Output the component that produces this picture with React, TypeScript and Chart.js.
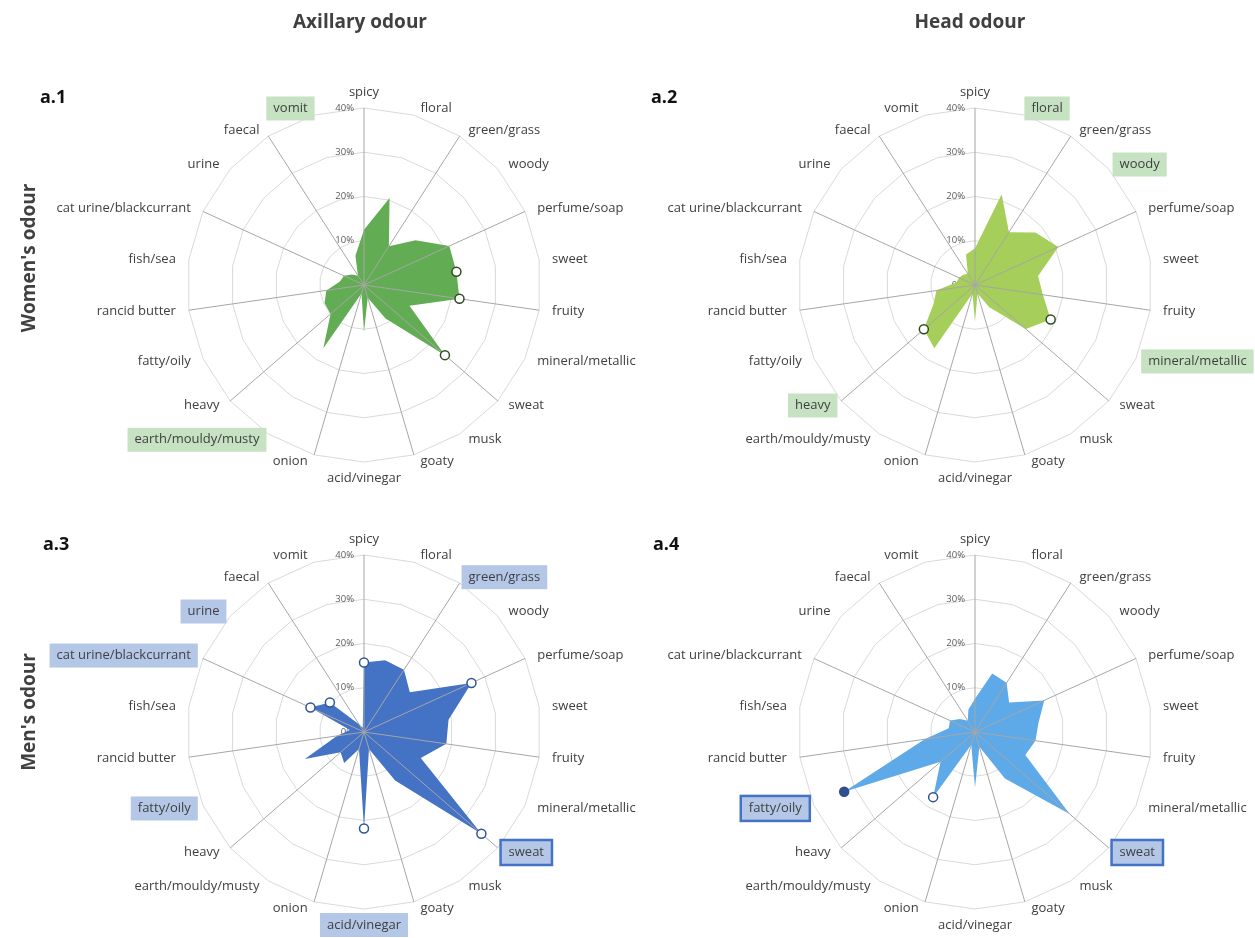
import React, { useEffect, useRef } from 'react';
import { Chart, registerables } from 'chart.js';

Chart.register(...registerables);

const W = 1255;
const H = 938;
const R = 177;

// ---------- data ----------
const categories = [
  'spicy', 'floral', 'green/grass', 'woody', 'perfume/soap', 'sweet', 'fruity',
  'mineral/metallic', 'sweat', 'musk', 'goaty', 'acid/vinegar', 'onion',
  'earth/mouldy/musty', 'heavy', 'fatty/oily', 'rancid butter', 'fish/sea',
  'cat urine/blackcurrant', 'urine', 'faecal', 'vomit',
];
const radialTicks = [0, 10, 20, 30, 40];

const axillaryWomen = [12.5, 20.5, 10.4, 15.4, 21.2, 21.1, 21.8, 11.3, 24.2, 9, 3, 10.6, 2, 17, 10, 9.8, 8.6, 5.5, 5, 3.6, 2.5, 6.9];
const headWomen = [8.3, 21.4, 14.2, 18.1, 20.7, 14.4, 15.5, 18.8, 15.2, 6, 2, 8.3, 2, 17, 15.3, 10.3, 8.8, 4.2, 4, 3.5, 3, 7.2];
const axillaryMen = [15.7, 16.9, 16.7, 13.7, 26.7, 19.3, 18.8, 14.1, 35.1, 13, 4, 21.8, 4, 8.3, 7, 14.7, 6.2, 3.2, 13.3, 10.2, 2, 1];
const headMen = [7.5, 13.8, 13.2, 10.2, 17.2, 14.5, 13.8, 12.5, 28.3, 12.5, 3.5, 12.6, 3, 17.5, 10.3, 32.5, 11.5, 6, 6.2, 4.5, 3, 5.3];

const markedAxillaryWomen = ['sweet', 'fruity', 'sweat'];
const markedHeadWomen = ['mineral/metallic', 'heavy'];
const markedAxillaryMen = ['spicy', 'perfume/soap', 'sweat', 'acid/vinegar', 'cat urine/blackcurrant', 'urine'];
const markedHeadMen = ['earth/mouldy/musty', 'fatty/oily'];
const filledHeadMen = ['fatty/oily'];

const highlightAxillaryWomen = ['vomit', 'earth/mouldy/musty'];
const highlightHeadWomen = ['floral', 'woody', 'mineral/metallic', 'heavy'];
const highlightAxillaryMen = ['green/grass', 'urine', 'cat urine/blackcurrant', 'fatty/oily', 'acid/vinegar', 'sweat'];
const framedAxillaryMen = ['sweat'];
const highlightHeadMen = ['fatty/oily', 'sweat'];
const framedHeadMen = ['fatty/oily', 'sweat'];

// ---------- panel config (layout + style) ----------
type Panel = {
  values: number[];
  marked: string[];
  filled: string[];
  highlight: string[];
  framed: string[];
  fill: string;
  markerBorder: string;
  markerFill: string;
  boxColor: string;
  cx: number;
  cy: number;
};

const panels: Panel[] = [
  { values: axillaryWomen, marked: markedAxillaryWomen, filled: [], highlight: highlightAxillaryWomen, framed: [],
    fill: '#62ad54', markerBorder: '#2f4a22', markerFill: '#2f4a22', boxColor: '#c6e2c3', cx: 364, cy: 285 },
  { values: headWomen, marked: markedHeadWomen, filled: [], highlight: highlightHeadWomen, framed: [],
    fill: '#a5ce5a', markerBorder: '#2f4a22', markerFill: '#2f4a22', boxColor: '#c6e2c3', cx: 975, cy: 285 },
  { values: axillaryMen, marked: markedAxillaryMen, filled: [], highlight: highlightAxillaryMen, framed: framedAxillaryMen,
    fill: '#4472c4', markerBorder: '#2f5597', markerFill: '#2f5597', boxColor: '#b4c7e7', cx: 364, cy: 732 },
  { values: headMen, marked: markedHeadMen, filled: filledHeadMen, highlight: highlightHeadMen, framed: framedHeadMen,
    fill: '#5eaae8', markerBorder: '#2f4f8f', markerFill: '#2f4f8f', boxColor: '#b4c7e7', cx: 975, cy: 732 },
];

const FONT = '"Open Sans", "DejaVu Sans", sans-serif';

function makeDecor(panel: Panel) {
  return {
    id: 'radarDecor',
    beforeDatasetsDraw(chart: any) {
      const s = chart.scales.r;
      const ctx = chart.ctx;
      ctx.save();
      ctx.font = `9.5px ${FONT}`;
      ctx.fillStyle = '#595959';
      ctx.textAlign = 'right';
      ctx.textBaseline = 'middle';
      s.ticks.forEach((t: any) => {
        const d = s.getDistanceFromCenterForValue(t.value);
        ctx.fillText(`${t.value}%`, s.xCenter - 10, s.yCenter - d);
      });
      ctx.restore();
    },
    afterDatasetDraw(chart: any, args: any) {
      if (args.index !== 0) return;
      const s = chart.scales.r;
      const ctx = chart.ctx;
      ctx.save();
      ctx.strokeStyle = '#a6a6a6';
      ctx.lineWidth = 1;
      for (let i = 0; i < categories.length; i += 2) {
        const p = s.getPointPosition(i, s.drawingArea);
        ctx.beginPath();
        ctx.moveTo(s.xCenter, s.yCenter);
        ctx.lineTo(p.x, p.y);
        ctx.stroke();
      }
      ctx.restore();
    },
    afterDraw(chart: any) {
      const s = chart.scales.r;
      const ctx = chart.ctx;
      const n = categories.length;
      ctx.save();
      ctx.font = `13px ${FONT}`;
      ctx.textBaseline = 'middle';
      ctx.textAlign = 'left';
      categories.forEach((lab, i) => {
        const a = (Math.PI * 2 * i) / n;
        const sn = Math.sin(a);
        const cs = Math.cos(a);
        const p = s.getPointPosition(i, s.drawingArea);
        const w = ctx.measureText(lab).width;
        let left: number;
        let y: number;
        if (i === 0) {
          left = p.x - w / 2; y = p.y - 16;
        } else if (Math.abs(sn) < 1e-6) {
          left = p.x - w / 2; y = p.y + 16;
        } else if (sn > 0) {
          left = p.x + 4 + 9 * sn; y = p.y - 7 * cs;
        } else {
          left = p.x - 4 + 9 * sn - w; y = p.y - 7 * cs;
        }
        if (panel.highlight.includes(lab)) {
          const framed = panel.framed.includes(lab);
          const px = framed ? 8 : 7;
          const h = framed ? 25 : 24;
          ctx.fillStyle = panel.boxColor;
          ctx.fillRect(left - px, y - h / 2, w + px * 2, h);
          if (framed) {
            ctx.strokeStyle = '#4472c4';
            ctx.lineWidth = 2.5;
            ctx.strokeRect(left - px, y - h / 2, w + px * 2, h);
          }
        }
        ctx.fillStyle = '#404040';
        ctx.fillText(lab, left, y);
      });
      ctx.restore();
    },
  };
}

function RadarPanel({ panel }: { panel: Panel }) {
  const ref = useRef<HTMLCanvasElement | null>(null);
  useEffect(() => {
    if (!ref.current) return;
    const markerValues = panel.values.map((v, i) => (panel.marked.includes(categories[i]) ? v : null));
    const chart = new Chart(ref.current, {
      type: 'radar',
      data: {
        labels: categories,
        datasets: [
          {
            data: panel.values,
            backgroundColor: panel.fill,
            borderWidth: 0,
            fill: true,
            pointRadius: 0,
            pointHoverRadius: 0,
            order: 2,
          },
          {
            data: markerValues,
            showLine: false,
            fill: false,
            borderWidth: 0,
            backgroundColor: 'rgba(0,0,0,0)',
            pointRadius: 4.5,
            pointHoverRadius: 4.5,
            pointBorderWidth: 1.5,
            pointBorderColor: panel.markerBorder,
            pointBackgroundColor: (ctx: any) =>
              panel.filled.includes(categories[ctx.dataIndex]) ? panel.markerFill : '#ffffff',
            order: 1,
          } as any,
        ],
      },
      options: {
        animation: false,
        responsive: false,
        devicePixelRatio: 1,
        events: [],
        layout: {
          padding: {
            left: panel.cx - R,
            top: panel.cy - R,
            right: W - panel.cx - R,
            bottom: H - panel.cy - R,
          },
        },
        plugins: { legend: { display: false }, tooltip: { enabled: false } },
        elements: { line: { tension: 0 } },
        scales: {
          r: {
            min: radialTicks[0],
            max: radialTicks[radialTicks.length - 1],
            ticks: { display: false, stepSize: radialTicks[1] - radialTicks[0] },
            grid: { color: '#d9d9d9', lineWidth: 1 },
            angleLines: { display: false },
            pointLabels: { display: false },
          },
        },
      } as any,
      plugins: [makeDecor(panel)],
    });
    return () => chart.destroy();
  }, [panel]);
  return (
    <canvas
      ref={ref}
      width={W}
      height={H}
      style={{ position: 'absolute', left: 0, top: 0, width: W, height: H }}
    />
  );
}

const titleStyle: React.CSSProperties = {
  position: 'absolute',
  fontFamily: FONT,
  fontWeight: 700,
  fontSize: 19,
  color: '#404040',
  whiteSpace: 'nowrap',
  lineHeight: '1',
};

const panelLabelStyle: React.CSSProperties = {
  position: 'absolute',
  fontFamily: FONT,
  fontWeight: 700,
  fontSize: 18,
  color: '#111111',
  whiteSpace: 'nowrap',
  lineHeight: '1',
};

export default function App() {
  return (
    <div style={{ position: 'absolute', left: 0, top: 0, width: W, height: H, overflow: 'hidden', background: '#ffffff' }}>
      {panels.map((p, i) => (
        <RadarPanel key={i} panel={p} />
      ))}
      <div style={{ ...titleStyle, left: 360, top: 21, transform: 'translate(-50%, -50%)' }}>Axillary odour</div>
      <div style={{ ...titleStyle, left: 970, top: 21, transform: 'translate(-50%, -50%)' }}>Head odour</div>
      <div style={{ ...titleStyle, left: 28, top: 258, transform: 'translate(-50%, -50%) rotate(-90deg)' }}>Women's odour</div>
      <div style={{ ...titleStyle, left: 28, top: 712, transform: 'translate(-50%, -50%) rotate(-90deg)' }}>Men's odour</div>
      <div style={{ ...panelLabelStyle, left: 40, top: 96, transform: 'translateY(-50%)' }}>a.1</div>
      <div style={{ ...panelLabelStyle, left: 651, top: 96, transform: 'translateY(-50%)' }}>a.2</div>
      <div style={{ ...panelLabelStyle, left: 43, top: 543, transform: 'translateY(-50%)' }}>a.3</div>
      <div style={{ ...panelLabelStyle, left: 653, top: 543, transform: 'translateY(-50%)' }}>a.4</div>
    </div>
  );
}
